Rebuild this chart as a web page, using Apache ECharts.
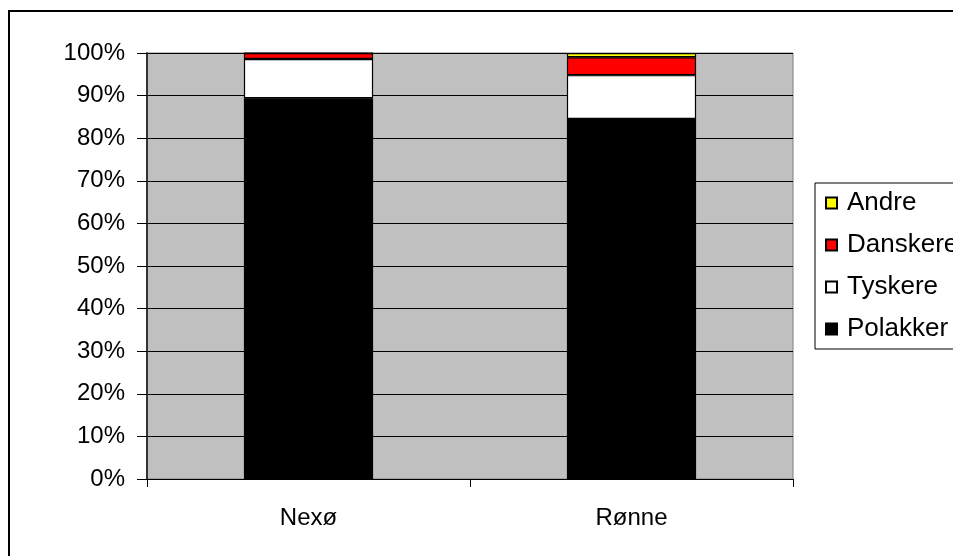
<!DOCTYPE html>
<html>
<head>
<meta charset="utf-8">
<script src="https://cdn.jsdelivr.net/npm/echarts@6/dist/echarts.min.js"></script>
<style>
html,body{margin:0;padding:0;background:#fff;}
#chart{width:953px;height:556px;}
</style>
</head>
<body>
<div id="chart"></div>
<script>
const categories = ['Nexø', 'Rønne'];
const polakker = [89.4, 84.5];
const tyskere = [9.2, 10.3];
const danskere = [1.4, 4.2];
const andre = [0, 1.0];
const legendOrder = ['Andre', 'Danskere', 'Tyskere', 'Polakker'];

const FONT = 'Liberation Sans, Arial, sans-serif';
const chart = echarts.init(document.getElementById('chart'), null, {renderer: 'canvas'});

function bar(name, data, color) {
  return {
    name: name, type: 'bar', stack: 'total', data: data,
    barCategoryGap: '60%',
    itemStyle: {color: color, borderColor: '#000', borderWidth: 1.2},
    emphasis: {disabled: true}
  };
}

chart.setOption({
  animation: false,
  backgroundColor: '#fff',
  graphic: [{
    type: 'rect', silent: true, z: 100,
    shape: {x: 9, y: 11, width: 1100, height: 700},
    style: {fill: 'none', stroke: '#000', lineWidth: 2}
  }],
  grid: {
    left: 147, top: 53, width: 646, height: 426,
    show: true, backgroundColor: '#c0c0c0', borderColor: '#808080', borderWidth: 1
  },
  legend: {
    data: legendOrder,
    orient: 'vertical',
    left: 815, top: 183,
    padding: [6, 300, 6, 10],
    itemWidth: 11, itemHeight: 11,
    itemGap: 14,
    borderColor: '#000', borderWidth: 1,
    backgroundColor: '#fff',
    icon: 'rect',
    textStyle: {fontFamily: FONT, fontSize: 26, color: '#000', lineHeight: 28, padding: [0, 0, 0, 5]}
  },
  xAxis: {
    type: 'category', data: categories,
    axisLine: {lineStyle: {color: '#000', width: 1}},
    axisTick: {show: true, length: 8, lineStyle: {color: '#000'}},
    axisLabel: {fontFamily: FONT, fontSize: 24, color: '#000', margin: 27},
    splitLine: {show: false}
  },
  yAxis: {
    type: 'value', min: 0, max: 100, interval: 10,
    axisLine: {show: true, lineStyle: {color: '#333', width: 2}},
    axisTick: {show: true, length: 10, lineStyle: {color: '#000'}},
    axisLabel: {fontFamily: FONT, fontSize: 24, color: '#000', margin: 22, formatter: '{value}%'},
    splitLine: {show: true, lineStyle: {color: '#000', width: 1}}
  },
  series: [
    bar('Polakker', polakker, '#000000'),
    bar('Tyskere', tyskere, '#ffffff'),
    bar('Danskere', danskere, '#ff0000'),
    bar('Andre', andre, '#ffff00')
  ]
});
</script>
</body>
</html>
